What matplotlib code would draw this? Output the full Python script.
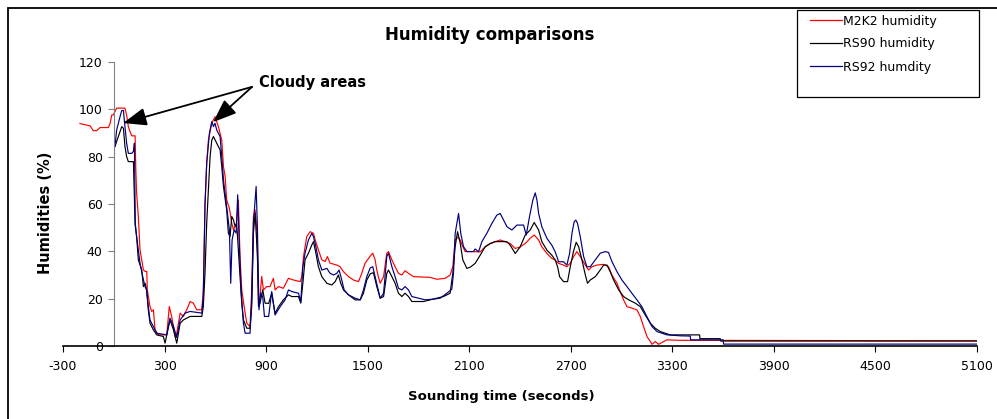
import matplotlib.pyplot as plt
from matplotlib.patches import Rectangle
from matplotlib.lines import Line2D

plt.rcParams['axes.unicode_minus'] = False

# M2K2 humidity (red)
m2k2_t = [-200, -140, -121, -101, -81, -32, -22, -12, -3, 17, 66, 76, 86, 96, 106, 126, 130, 135,
          145, 155, 165, 175, 185, 195, 198, 214, 224, 234, 244, 263, 313, 328, 342, 362, 372, 382,
          392, 411, 431, 451, 470, 490, 520, 529, 539, 549, 559, 579, 598, 618, 638, 648, 658, 667,
          683, 697, 707, 726, 736, 746, 756, 776, 786, 805, 815, 825, 835, 845, 855, 864, 874, 884,
          904, 923, 943, 953, 973, 1002, 1032, 1061, 1101, 1111, 1121, 1140, 1160, 1180, 1190, 1209,
          1229, 1249, 1262, 1278, 1318, 1337, 1357, 1387, 1416, 1446, 1465, 1485, 1515, 1530, 1544,
          1554, 1564, 1574, 1594, 1613, 1623, 1643, 1662, 1682, 1702, 1721, 1741, 1771, 1869, 1909,
          1958, 1987, 2003, 2017, 2031, 2047, 2062, 2076, 2106, 2165, 2194, 2224, 2254, 2283, 2313,
          2342, 2372, 2401, 2431, 2460, 2484, 2510, 2529, 2559, 2588, 2608, 2628, 2657, 2677, 2697,
          2717, 2736, 2756, 2786, 2805, 2825, 2855, 2894, 2923, 2943, 2973, 2992, 3012, 3032, 3061,
          3091, 3111, 3130, 3150, 3170, 3180, 3199, 3219, 3249, 3268, 3347, 5100]
m2k2_rh = [94, 93, 91, 91, 92.3, 92.3, 94, 97.6, 97.6, 100.5, 100.5, 97.6, 92.7, 90.6, 88.8, 88.8, 75,
           64.6, 54.7, 40.6, 36.4, 32.2, 31.5, 31.5, 23.7, 16.7, 14.6, 15.3, 6.8, 4.7, 4.7, 16.7, 12.5,
           4, 5.4, 9.6, 13.9, 12.5, 15.3, 18.8, 18.1, 15.3, 15.3, 23.7, 58.9, 77.2, 87, 94.1, 96.9, 92.7,
           87, 75.8, 71.6, 61.7, 58.2, 51.9, 49.1, 51.9, 61.7, 37.8, 23.7, 13.9, 9.6, 8.2, 23.7, 54.7,
           57.5, 49.1, 18.1, 20.9, 29.4, 23.7, 25.1, 25.1, 28.6, 23.7, 25.1, 24.4, 28.6, 27.9, 27.2,
           29.3, 37.8, 46.2, 48.3, 47.6, 44.8, 40.6, 36.4, 35.7, 37.8, 35, 34.2, 33.5, 31.4, 29.3, 27.9,
           27.2, 30.7, 35, 38, 39.2, 36.4, 32.1, 29, 26.5, 29.3, 39.2, 39.9, 36.4, 33.5, 30.7, 30, 31.8,
           30.7, 29.3, 29, 28.2, 28.6, 30, 33.5, 44.8, 46, 44.8, 42, 39.9, 39.9, 39.8, 41.9, 43.3, 44.1,
           44.8, 44.1, 43.3, 41.2, 41.9, 43.3, 45.5, 46.9, 44.8, 41.9, 39.1, 37, 36.3, 34.9, 34.2, 33.5,
           35, 37.8, 39.9, 37.8, 34.2, 32.1, 33.5, 34.2, 34.5, 33.5, 30, 26.5, 23, 19.5, 16.6, 16, 15.2,
           12.4, 8.2, 4, 1.9, 0.7, 1.9, 0.7, 1.9, 2.6, 2.4, 2.2]

# RS90 humidity (black)
rs90_t = [7, 27, 47, 57, 66, 76, 86, 116, 126, 135, 145, 165, 175, 185, 194, 204, 214, 234, 254, 293,
          303, 313, 332, 352, 372, 392, 411, 451, 520, 529, 539, 549, 559, 569, 579, 589, 608, 628,
          638, 648, 667, 677, 687, 697, 707, 717, 726, 736, 746, 756, 766, 786, 805, 815, 825, 835,
          849, 855, 864, 880, 894, 915, 933, 953, 973, 1002, 1032, 1052, 1091, 1105, 1117, 1130,
          1150, 1170, 1180, 1194, 1209, 1229, 1259, 1288, 1308, 1327, 1341, 1357, 1387, 1426, 1456,
          1475, 1495, 1515, 1534, 1554, 1574, 1594, 1613, 1623, 1643, 1662, 1682, 1702, 1721, 1741,
          1761, 1830, 1869, 1909, 1948, 1987, 2003, 2017, 2031, 2047, 2062, 2086, 2106, 2135, 2165,
          2194, 2224, 2254, 2322, 2342, 2372, 2401, 2431, 2460, 2484, 2510, 2529, 2559, 2588, 2608,
          2622, 2634, 2657, 2681, 2697, 2716, 2732, 2746, 2766, 2786, 2799, 2815, 2845, 2874, 2894,
          2914, 2933, 2953, 2983, 3012, 3042, 3081, 3111, 3140, 3170, 3199, 3229, 3258, 3288, 3461,
          3463, 3583, 3585, 5100]
rs90_rh = [84.3, 88.5, 92.7, 92, 84.3, 80, 77.9, 77.9, 51.2, 46.2, 36.4, 32.2, 25.1, 26.5, 23.7, 15.3,
           9.6, 6.8, 4.7, 4, 1.2, 4.7, 11, 7, 1.2, 9.6, 11, 12.5, 12.5, 16.7, 30.8, 51.9, 66, 80, 87,
           88.5, 85.7, 82.9, 75.8, 67.4, 57.5, 47.7, 46.2, 54.7, 53.3, 50.5, 51.9, 40.6, 29.4, 18.1, 11,
           7.5, 7.5, 16.7, 47.7, 56.1, 37.8, 16.7, 18.1, 23.7, 18.1, 18, 22.3, 13.8, 16.6, 19.5, 21.6,
           20.9, 20.9, 18.1, 26.5, 36.4, 39.2, 42.7, 44.1, 39.2, 33.5, 29.3, 26.5, 25.8, 27.2, 30, 26.5,
           23.7, 21.6, 19.5, 19.5, 22.3, 27.9, 30.5, 31, 25.1, 20.2, 20.9, 30.7, 32.1, 29.3, 26.5, 22.3,
           20.9, 22.3, 20.9, 18.8, 18.8, 19.5, 20.2, 20.9, 22.3, 30.7, 42, 48.3, 43.4, 36.4, 32.8, 33.3,
           34.9, 38.4, 41.9, 43.3, 44.1, 44.1, 42.6, 39.1, 41.9, 46.9, 49, 52.2, 49, 44.1, 40.5, 38.4,
           36.3, 33.5, 29.3, 27.2, 27.2, 33.5, 40, 43.8, 42, 36.4, 30, 26.5, 27.9, 29.3, 32.1, 34.2,
           34.2, 31.4, 27.9, 23.7, 20.9, 19.5, 18.1, 16.6, 13.1, 9.6, 7.5, 6.1, 5.4, 4.7, 4.7, 3.1, 3.1,
           2.1, 2.1]

# RS92 humdity (blue)
rs92_t = [7, 17, 37, 47, 57, 66, 76, 86, 106, 116, 122, 127, 135, 155, 175, 185, 194, 204, 214, 234,
          254, 313, 332, 352, 372, 392, 421, 451, 520, 529, 539, 549, 565, 579, 589, 598, 608, 628,
          638, 648, 667, 683, 691, 699, 711, 723, 732, 742, 752, 766, 776, 805, 815, 825, 841, 849,
          858, 868, 880, 890, 915, 933, 953, 983, 1012, 1032, 1052, 1091, 1105, 1117, 1130, 1150,
          1170, 1180, 1194, 1209, 1229, 1259, 1278, 1298, 1318, 1331, 1347, 1361, 1387, 1426, 1456,
          1475, 1495, 1515, 1530, 1544, 1554, 1574, 1594, 1613, 1623, 1643, 1662, 1682, 1702, 1721,
          1741, 1761, 1800, 1840, 1889, 1928, 1968, 1997, 2007, 2017, 2037, 2050, 2066, 2086, 2125,
          2135, 2155, 2175, 2204, 2234, 2263, 2283, 2303, 2323, 2352, 2382, 2421, 2437, 2456, 2476,
          2490, 2500, 2510, 2529, 2559, 2588, 2608, 2628, 2657, 2677, 2693, 2707, 2720, 2730, 2740,
          2756, 2776, 2795, 2815, 2845, 2874, 2904, 2923, 2943, 2973, 3002, 3032, 3061, 3091, 3120,
          3150, 3180, 3209, 3239, 3268, 3347, 3406, 3408, 3600, 3603, 5100]
rs92_rh = [84.3, 91.3, 96.9, 99.5, 99.5, 92.7, 85.7, 81.4, 81.4, 82.2, 85.7, 51.9, 46.2, 35, 28, 25,
           23.7, 16.7, 11, 8.2, 5.4, 4.7, 11.8, 8.5, 3.6, 11, 13.9, 14.6, 13.9, 20.9, 60.3, 77.2, 89.9,
           94.8, 92.7, 94.1, 91.3, 88.5, 80, 70.2, 58.9, 49.1, 26.5, 44.8, 49.1, 47.7, 63.9, 42, 23.7,
           9.6, 5.4, 5.4, 19.5, 51.9, 67.4, 49.1, 15.3, 22.3, 20.9, 12.5, 12.5, 23, 13.1, 16.6, 19.5,
           23.7, 23, 22.3, 18.8, 33.5, 39.2, 44.8, 47.6, 46.2, 42, 36.4, 32.1, 32.8, 30.7, 30, 30.7,
           32.1, 27.9, 23.7, 21.6, 20.2, 19.5, 23.7, 29.3, 33, 33.5, 29.3, 26.5, 20.2, 22.3, 37.8, 39.2,
           33.5, 29.3, 24.4, 23.7, 25.1, 23.7, 20.9, 20.2, 19.5, 19.8, 20.2, 22.3, 24, 30.7, 47.6, 56,
           47.6, 42, 39.9, 39.9, 41, 39.8, 44.1, 47.6, 51.8, 55.3, 56, 53.2, 50.4, 49, 51.1, 51.1, 46.9,
           54.6, 61.7, 64.7, 61.7, 56, 50.4, 45.5, 42.6, 39.8, 35.6, 35.6, 34.2, 39.1, 47.6, 52.5, 53.2,
           51.8, 46.2, 37.8, 33.5, 33.5, 36.4, 39.2, 39.9, 39.5, 35.7, 31.4, 27.9, 25.1, 22.3, 19.5,
           16.6, 12.4, 8.2, 6.1, 5.4, 4.7, 4.3, 4.2, 2.6, 2.6, 0.8, 0.8]

x_ticks = [-300, 300, 900, 1500, 2100, 2700, 3300, 3900, 4500, 5100]
y_ticks = [0, 20, 40, 60, 80, 100, 120]
labels = ["M2K2 humidity", "RS90 humidity", "RS92 humdity"]
colors = ["#ff0000", "#000000", "#000080"]

# annotation: text anchor and arrow tips (data coords)
cloud_tail = (817, 109.5)
cloud_tips = [(55, 94.2), (587, 94.6)]

fig = plt.figure(figsize=(9.97, 4.19), dpi=100)
ax = fig.add_axes([63 / 997, 73 / 419, 914 / 997, 284 / 419])

ax.plot(m2k2_t, m2k2_rh, color=colors[0], lw=0.85)
ax.plot(rs90_t, rs90_rh, color=colors[1], lw=0.85)
ax.plot(rs92_t, rs92_rh, color=colors[2], lw=0.85)

ax.set_xlim(-300, 5100)
ax.set_ylim(0, 120)
ax.set_xticks(x_ticks)
ax.set_yticks(y_ticks)
ax.spines['top'].set_visible(False)
ax.spines['right'].set_visible(False)
ax.spines['left'].set_position(('data', 0))
ax.spines['left'].set_color('#808080')
ax.spines['bottom'].set_linewidth(1.2)
ax.tick_params(axis='both', direction='out', length=4, labelsize=9, colors='black')
ax.tick_params(axis='y', pad=4, color='#808080')
ax.tick_params(axis='x', pad=6)

ax.set_xlabel("Sounding time (seconds)", fontsize=9.5, fontweight='bold')
ax.xaxis.set_label_coords(0.480, -0.155)
ax.set_ylabel("Humidities (%)", fontsize=10.5, fontweight='bold')
ax.yaxis.set_label_coords(-0.011, 0.47)

fig.text(490 / 997, 1 - 35 / 419, "Humidity comparisons", fontsize=12, fontweight='bold',
         ha='center', va='center')

for tip in cloud_tips:
    ax.annotate('', xy=tip, xytext=cloud_tail,
                arrowprops=dict(arrowstyle='-|>,head_length=1.3,head_width=0.5', color='black',
                                lw=1.3, mutation_scale=11, shrinkA=0, shrinkB=0))
ax.text(cloud_tail[0] + 40, cloud_tail[1] + 2, "Cloudy areas", fontsize=10.5, fontweight='bold',
        ha='left', va='center')

# legend box
fig.patches.append(Rectangle((797 / 997, 1 - 97 / 419), 182 / 997, 87 / 419,
                             transform=fig.transFigure, fill=True, facecolor='white',
                             edgecolor='black', lw=0.9))
handles = [Line2D([], [], color=c, lw=0.9) for c in colors]
fig.legend(handles, labels, loc='upper left', bbox_to_anchor=(807 / 997, 1 - 12 / 419),
           frameon=False, fontsize=9, handlelength=2.6, handletextpad=0.1, labelspacing=0.8,
           borderaxespad=0, borderpad=0.2)

# outer chart border
fig.patches.append(Rectangle((8 / 997, -0.05), 1.1, 1 - 8 / 419 + 0.05, transform=fig.transFigure,
                             fill=False, edgecolor='black', lw=1.3))

fig.savefig("out.png", dpi=100)
